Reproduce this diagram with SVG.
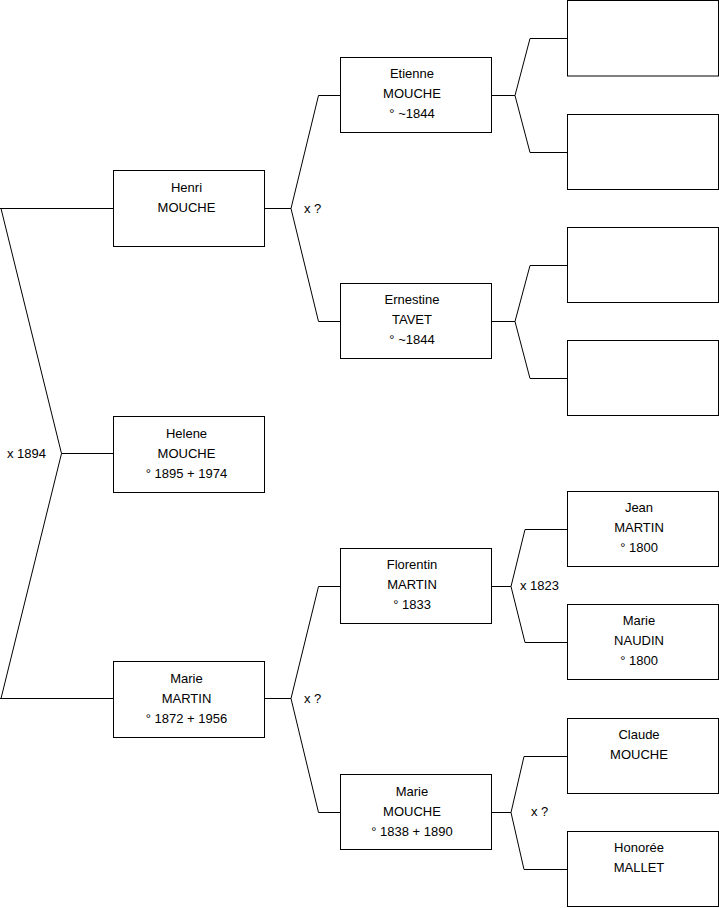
<svg xmlns="http://www.w3.org/2000/svg" width="719" height="908" viewBox="0 0 719 908">
<style>
.box{fill:#fff;stroke:#000;stroke-width:1}
.ln{fill:none;stroke:#000;stroke-width:1}
text{font-family:"Liberation Sans",Arial,sans-serif;font-size:13px;fill:#000}
.c{text-anchor:middle}
</style>
<rect width="719" height="908" fill="#fff"/>
<g id="connectors">
<path class="ln" d="M0,208.5H113.5 M1,208.5L61.5,453.5 L1,698.5 M0,698.5H113.5 M61.5,453.5H113.5"/>
<path class="ln" d="M265,208.5H291 M291,208.5L318.5,95.5H340.5 M291,208.5L318.5,321.5H340.5"/>
<path class="ln" d="M265,698.5H291 M291,698.5L318.5,586.5H340.5 M291,698.5L318.5,812.5H340.5"/>
<path class="ln" d="M491.5,95.5H515 M515,95.5L530,38.5H567.5 M515,95.5L530,152.5H567.5"/>
<path class="ln" d="M491.5,321.5H515 M515,321.5L530,265.5H567.5 M515,321.5L530,378.5H567.5"/>
<path class="ln" d="M491.5,586.5H511 M511,586.5L525,529.5H567.5 M511,586.5L525,642.5H567.5"/>
<path class="ln" d="M491.5,812.5H511 M511,812.5L524,756.5H567.5 M511,812.5L524,869.5H567.5"/>
<text x="304" y="212.5">x ?</text>
<text x="7" y="457.5">x 1894</text>
<text x="304" y="702.5">x ?</text>
<text x="520" y="589.5">x 1823</text>
<text x="531" y="815.5">x ?</text>
</g>
<g id="henri"><rect class="box" x="113.5" y="170.5" width="151" height="76"/><text class="c" x="186.5" y="191.5">Henri</text><text class="c" x="186.5" y="211.5">MOUCHE</text></g>
<g id="helene"><rect class="box" x="113.5" y="416.5" width="151" height="76"/><text class="c" x="186.5" y="437.5">Helene</text><text class="c" x="186.5" y="457.5">MOUCHE</text><text class="c" x="186.5" y="477.5">° 1895 + 1974</text></g>
<g id="marie-martin"><rect class="box" x="113.5" y="661.5" width="151" height="76"/><text class="c" x="186.5" y="682.5">Marie</text><text class="c" x="186.5" y="702.5">MARTIN</text><text class="c" x="186.5" y="722.5">° 1872 + 1956</text></g>
<g id="etienne"><rect class="box" x="340.5" y="57.5" width="151" height="75"/><text class="c" x="412" y="77.5">Etienne</text><text class="c" x="412" y="97.5">MOUCHE</text><text class="c" x="412" y="117.5">° ~1844</text></g>
<g id="ernestine"><rect class="box" x="340.5" y="283.5" width="151" height="75"/><text class="c" x="412" y="303.5">Ernestine</text><text class="c" x="412" y="323.5">TAVET</text><text class="c" x="412" y="343.5">° ~1844</text></g>
<g id="florentin"><rect class="box" x="340.5" y="548.5" width="151" height="75"/><text class="c" x="412" y="568.5">Florentin</text><text class="c" x="412" y="588.5">MARTIN</text><text class="c" x="412" y="608.5">° 1833</text></g>
<g id="marie-mouche"><rect class="box" x="340.5" y="774.5" width="151" height="75"/><text class="c" x="412" y="795.5">Marie</text><text class="c" x="412" y="815.5">MOUCHE</text><text class="c" x="412" y="835.5">° 1838 + 1890</text></g>
<g id="p1"><rect class="box" x="567.5" y="0.5" width="151" height="75.5"/></g>
<g id="p2"><rect class="box" x="567.5" y="114.5" width="151" height="75"/></g>
<g id="p3"><rect class="box" x="567.5" y="227.5" width="151" height="75"/></g>
<g id="p4"><rect class="box" x="567.5" y="340.5" width="151" height="75"/></g>
<g id="jean"><rect class="box" x="567.5" y="491.5" width="151" height="75"/><text class="c" x="639" y="511.5">Jean</text><text class="c" x="639" y="531.5">MARTIN</text><text class="c" x="639" y="551.5">° 1800</text></g>
<g id="marie-naudin"><rect class="box" x="567.5" y="604.5" width="151" height="75"/><text class="c" x="639" y="624.5">Marie</text><text class="c" x="639" y="644.5">NAUDIN</text><text class="c" x="639" y="664.5">° 1800</text></g>
<g id="claude"><rect class="box" x="567.5" y="718.5" width="151" height="75"/><text class="c" x="639" y="738.5">Claude</text><text class="c" x="639" y="758.5">MOUCHE</text></g>
<g id="honoree"><rect class="box" x="567.5" y="831.5" width="151" height="75"/><text class="c" x="639" y="851.5">Honorée</text><text class="c" x="639" y="871.5">MALLET</text></g>
</svg>
